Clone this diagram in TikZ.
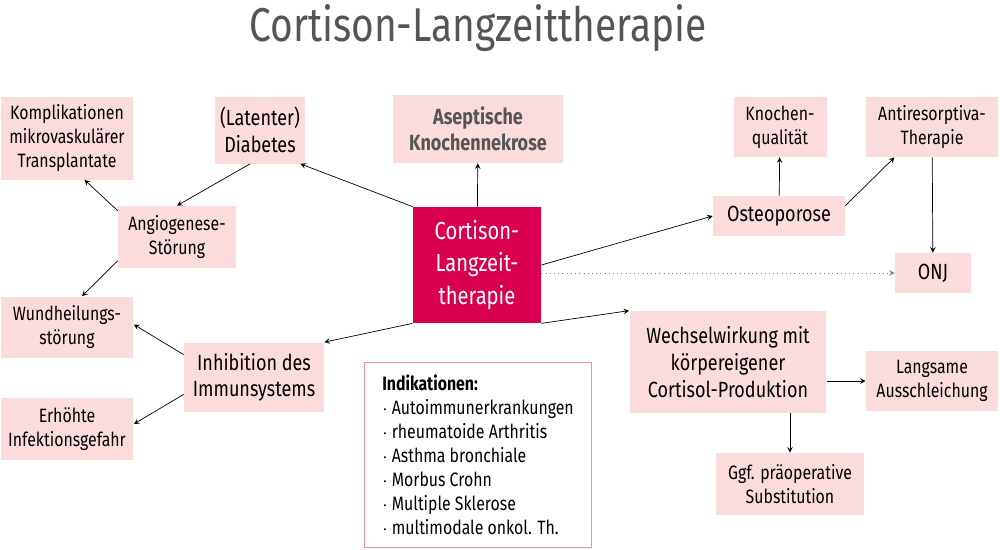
\documentclass[tikz,border=0pt]{standalone}
\usepackage{fontspec}
\setmainfont[FakeStretch=0.82]{Fira Sans}
\usetikzlibrary{arrows, positioning}
\definecolor{boxpink}{HTML}{FBDCDC}
\definecolor{cortred}{HTML}{D9004F}
\definecolor{titlegray}{HTML}{555555}
\tikzstyle{effect} = [rectangle, fill=boxpink, text centered, align=center, font=\fontsize{11}{13.5}\selectfont, inner sep=2pt]
\tikzstyle{arrow} = [->, >=stealth, thin]
\begin{document}
\begin{tikzpicture}[x=0.02cm, y=-0.02cm]
	\useasboundingbox (0,0) rectangle (1000,549);
	\node (title) [text=titlegray, font=\fontsize{27}{30}\selectfont] at (478,28) {Cortison-Langzeittherapie};
	\node (cortison) [rectangle, fill=cortred, text=white, align=center, minimum width=2.56cm, minimum height=2.32cm, font=\fontsize{14}{18.5}\selectfont] at (477,265) {Cortison-\\Langzeit-\\therapie};
	\node (komplikation) [effect, minimum width=2.66cm, minimum height=1.66cm] at (67,138) {Komplikationen\\mikrovaskulärer\\Transplantate};
	\node (diabetes) [effect, minimum width=1.8cm, minimum height=1.34cm, font=\fontsize{12.5}{15}\selectfont] at (260,130) {(Latenter)\\Diabetes};
	\node (nekrose) [effect, minimum width=3.42cm, minimum height=1.36cm, text=titlegray, font=\bfseries\fontsize{12.5}{15}\selectfont] at (478,129) {Aseptische\\Knochennekrose};
	\node (qualitaet) [effect, minimum width=1.86cm, minimum height=1.2cm] at (780,127) {Knochen-\\qualität};
	\node (antiresorptiva) [effect, minimum width=2.64cm, minimum height=1.2cm] at (932,127) {Antiresorptiva-\\Therapie};
	\node (angiogenese) [effect, minimum width=2.36cm, minimum height=1.24cm] at (177,237) {Angiogenese-\\Störung};
	\node (osteoporose) [effect, minimum width=2.64cm, minimum height=0.8cm, font=\fontsize{12.5}{15}\selectfont] at (779,216) {Osteoporose};
	\node (onj) [effect, minimum width=1.52cm, minimum height=0.8cm, font=\fontsize{12.5}{15}\selectfont] at (933,273) {ONJ};
	\node (wundheilung) [effect, minimum width=2.66cm, minimum height=1.22cm] at (67,327) {Wundheilungs-\\störung};
	\node (inhibition) [effect, minimum width=2.8cm, minimum height=1.38cm, font=\fontsize{12.5}{15}\selectfont] at (254,377) {Inhibition des\\Immunsystems};
	\node (wechsel) [effect, minimum width=3.94cm, minimum height=2.04cm, font=\fontsize{12.5}{15.5}\selectfont] at (728,362) {Wechselwirkung mit\\körpereigener\\Cortisol-Produktion};
	\node (langsam) [effect, minimum width=2.64cm, minimum height=1.2cm] at (932,381) {Langsame\\Ausschleichung};
	\node (infektion) [effect, minimum width=2.66cm, minimum height=1.24cm] at (67,429) {Erhöhte\\Infektionsgefahr};
	\node (substitution) [effect, minimum width=2.96cm, minimum height=1.24cm] at (790,484) {Ggf. präoperative\\Substitution};
	\node (indikationen) [rectangle, draw=cortred!45, line width=1pt, fill=white, minimum width=4.54cm, minimum height=3.7cm, align=left, font=\fontsize{11}{13.7}\selectfont] at (478,455) {\textbf{Indikationen:}\\$\cdot$ Autoimmunerkrankungen\\$\cdot$ rheumatoide Arthritis\\$\cdot$ Asthma bronchiale\\$\cdot$ Morbus Crohn\\$\cdot$ Multiple Sklerose\\$\cdot$ multimodale onkol. Th.};
	\draw [arrow] (cortison.north west) -- ([xshift=-0.1cm]diabetes.south east);
	\draw [arrow] (cortison) -- (nekrose);
	\draw [arrow] (cortison.east) -- (osteoporose.west);
	\draw [arrow, dotted, gray] (cortison.east |- onj) -- (onj);
	\draw [arrow] (cortison.south west) -- (inhibition.north east);
	\draw [arrow] (cortison.south east) -- (wechsel.north west);
	\draw [arrow] ([xshift=-0.2cm]diabetes.south) -- (angiogenese.north);
	\draw [arrow] ([yshift=-0.1cm]angiogenese.north west) -- ([xshift=0.35cm]komplikation.south);
	\draw [arrow] ([yshift=0.15cm]angiogenese.south west) -- ([xshift=0.3cm]wundheilung.north);
	\draw [arrow] ([yshift=-0.25cm]inhibition.north west) -- ([yshift=0.05cm]wundheilung.east);
	\draw [arrow] ([yshift=0.35cm]inhibition.south west) -- ([yshift=0.1cm]infektion.east);
	\draw [arrow] (osteoporose) -- (qualitaet);
	\draw [arrow] ([yshift=-0.2cm]osteoporose.north east) -- ([xshift=-0.75cm]antiresorptiva.south);
	\draw [arrow] (antiresorptiva) -- (onj);
	\draw [arrow] (wechsel.east |- langsam) -- (langsam);
	\draw [arrow] (wechsel.south -| substitution) -- (substitution);
\end{tikzpicture}
\end{document}
